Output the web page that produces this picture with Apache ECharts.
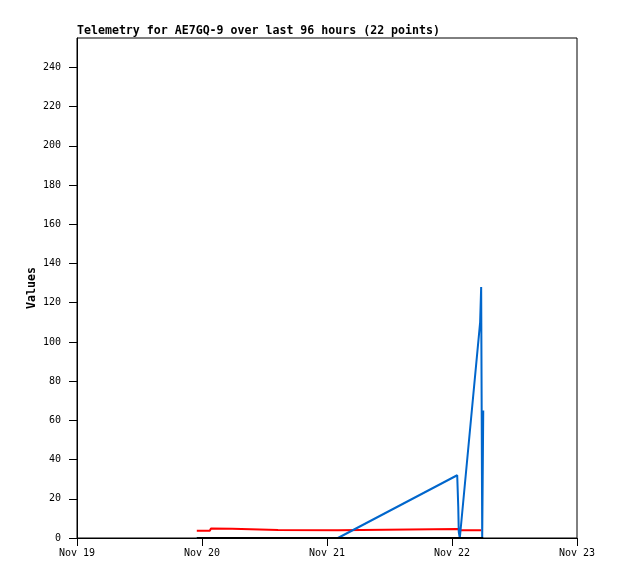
<!DOCTYPE html>
<html>
<head>
<meta charset="utf-8">
<script src="https://cdn.jsdelivr.net/npm/echarts@6/dist/echarts.min.js"></script>
<style>html,body{margin:0;padding:0;background:#fff;}#c{width:618px;height:579px;}</style>
</head>
<body>
<div id="c"></div>
<script>
// hours since Nov 19 00:00
var hours = [23.0, 25.5, 25.7, 29.8, 30.0, 38.6, 38.8, 50.1, 73.0, 73.2, 73.3, 73.5, 77.4, 77.6, 77.8, 78.0];
var redValues   = [3.7, 3.7, 4.8, 4.7, 4.2, 4.1, 3.8, 3.9, 4.6, 3.9, 3.9, 3.9, 3.9, 3.9, null, null];
var blueValues  = [0, 0, 0, 0, 0, 0, 0, 0, 32, 16, 3, 0, 110, 128, 0, 65];
var blackValues = [0, 0, 0, 0, 0, 0, 0, 0, 0, 0, 0, 0, 0, 0, 0, 0];
var xTickLabels = ['Nov 19', 'Nov 20', 'Nov 21', 'Nov 22', 'Nov 23'];
var yTicks = [0, 20, 40, 60, 80, 100, 120, 140, 160, 180, 200, 220, 240];
var titleText = 'Telemetry for AE7GQ-9 over last 96 hours (22 points)';

function pairs(vals) {
  return hours.map(function (h, i) { return [h, vals[i]]; });
}
var mono = 'DejaVu Sans Mono';
var chart = echarts.init(document.getElementById('c'), null, {renderer: 'canvas'});
chart.setOption({
  animation: false,
  backgroundColor: '#fff',
  title: {
    text: titleText, left: 72, top: 19,
    textStyle: {fontFamily: mono, fontWeight: 'bold', fontSize: 11.6, color: '#000', lineHeight: 14}
  },
  grid: {left: 77, top: 38, right: 41, bottom: 41, show: true, borderColor: '#000', borderWidth: 1, backgroundColor: 'transparent'},
  xAxis: {
    type: 'value', min: 0, max: 96, interval: 24,
    axisLine: {show: true, lineStyle: {color: '#000', width: 1}},
    axisTick: {show: true, length: 8, lineStyle: {color: '#000'}},
    axisLabel: {
      margin: 10, color: '#000', fontFamily: mono, fontSize: 10,
      formatter: function (v) { return xTickLabels[Math.round(v / 24)] || ''; }
    },
    splitLine: {show: false}
  },
  yAxis: {
    type: 'value', min: 0, max: 255,
    name: 'Values', nameLocation: 'middle', nameGap: 39, nameMoveOverlap: false,
    nameTextStyle: {fontFamily: mono, fontWeight: 'bold', fontSize: 11.6, color: '#000'},
    axisLine: {show: true, lineStyle: {color: '#000', width: 1}},
    axisTick: {show: true, length: 8, customValues: yTicks, lineStyle: {color: '#000'}},
    axisLabel: {margin: 16, color: '#000', fontFamily: mono, fontSize: 10, customValues: yTicks},
    splitLine: {show: false}
  },
  series: [
    {type: 'line', data: pairs(redValues), symbol: 'none', lineStyle: {color: '#ff0000', width: 2}, itemStyle: {color: '#ff0000'}, z: 2},
    {type: 'line', data: pairs(blueValues), symbol: 'none', lineStyle: {color: '#0066cc', width: 2}, itemStyle: {color: '#0066cc'}, z: 3},
    {type: 'line', data: pairs(blackValues), symbol: 'none', lineStyle: {color: '#000000', width: 2}, itemStyle: {color: '#000'}, z: 4}
  ]
});
</script>
</body>
</html>
